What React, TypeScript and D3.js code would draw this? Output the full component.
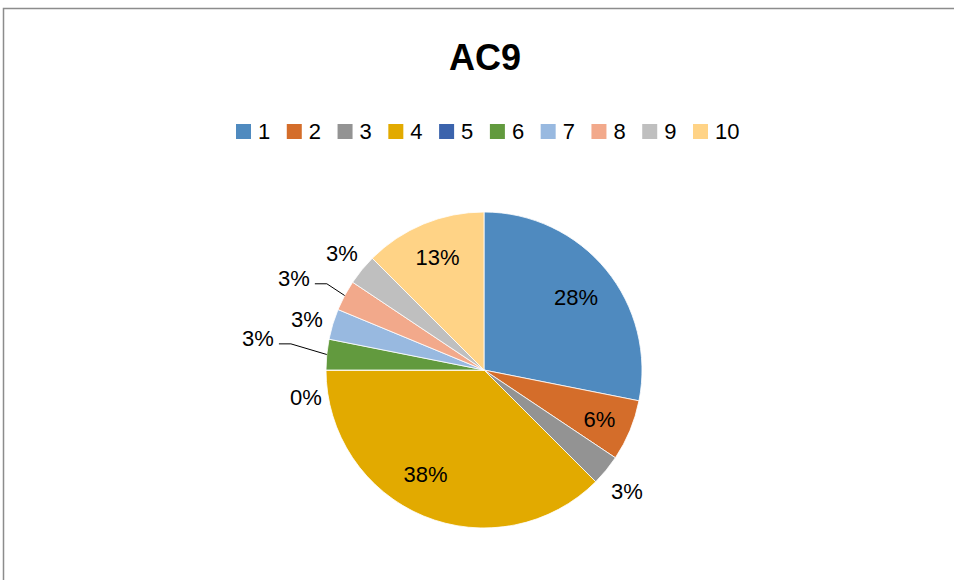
import React from "react";
import * as d3 from "d3";

const width = 955;
const height = 580;
const cx = 484;
const cy = 370;
const radius = 158;

const categories = ["1", "2", "3", "4", "5", "6", "7", "8", "9", "10"];
const counts = [9, 2, 1, 12, 0, 1, 1, 1, 1, 4];
const colors = [
  "#4F8ABF",
  "#D46D2A",
  "#939393",
  "#E2AA00",
  "#3B63AC",
  "#629A3E",
  "#98B9E0",
  "#F2A98B",
  "#BFBFBF",
  "#FFD386",
];
// how Excel placed each data label: inside, outside, or outside with a leader line
const labelMode = ["in", "in", "out", "in", "out", "leader", "out", "leader", "out", "in"];
const labelNudge: [number, number][] = [
  [-2, 5],
  [3, 3],
  [0, 4],
  [-12, -8],
  [7, 27],
  [-42, -13],
  [0, 3],
  [-27, -4],
  [1, 1],
  [0, 0],
];

const font = "'Liberation Sans', Arial, sans-serif";

export default function App() {
  const total = d3.sum(counts);
  const pie = d3
    .pie<number>()
    .sort(null)
    .value((d) => d);
  const arcs = pie(counts);
  const arc = d3.arc<d3.PieArcDatum<number>>().innerRadius(0).outerRadius(radius);
  const inArc = d3
    .arc<d3.PieArcDatum<number>>()
    .innerRadius(radius * 0.77)
    .outerRadius(radius * 0.77);
  const outArc = d3
    .arc<d3.PieArcDatum<number>>()
    .innerRadius(185)
    .outerRadius(185);
  const edgeArc = d3
    .arc<d3.PieArcDatum<number>>()
    .innerRadius(radius)
    .outerRadius(radius);

  const legendX = d3
    .scalePoint<string>()
    .domain(categories)
    .range([236, 693]);

  const fmt = (v: number) => `${Math.round((v / total) * 100)}%`;

  return (
    <svg
      width={width}
      height={height}
      style={{ position: "absolute", left: 0, top: 0 }}
      fontFamily={font}
    >
      <rect x={0} y={0} width={width} height={height} fill="#fff" />
      <path
        d={`M3.5,${height} V8.5 H954`}
        fill="none"
        stroke="#8c8c8c"
        strokeWidth={1.5}
      />
      <text x={cx + 1} y={70} textAnchor="middle" fontSize={36} fontWeight="bold">
        AC9
      </text>
      <g>
        {categories.map((c, i) => (
          <g key={c} transform={`translate(${legendX(c)},0)`}>
            <rect x={0} y={124} width={15} height={15} fill={colors[i]} />
            <text x={22} y={139} fontSize={22} fill="#000">
              {c}
            </text>
          </g>
        ))}
      </g>
      <g transform={`translate(${cx},${cy})`}>
        {arcs.map((a, i) => (
          <path key={i} d={arc(a) || ""} fill={colors[i]} stroke="#fff" strokeWidth={0.8} />
        ))}
        {arcs.map((a, i) => {
          const mode = labelMode[i];
          const base = mode === "in" ? inArc.centroid(a) : outArc.centroid(a);
          const x = base[0] + labelNudge[i][0];
          const y = base[1] + labelNudge[i][1];
          let leader = null;
          if (mode === "leader") {
            const e = edgeArc.centroid(a);
            const sx = x + 21;
            const sy = y + 5;
            const ex = sx + 12;
            leader = (
              <polyline
                points={`${sx},${sy} ${ex},${sy} ${e[0]},${e[1]}`}
                fill="none"
                stroke="#000"
                strokeWidth={1}
              />
            );
          }
          return (
            <g key={`l${i}`}>
              {leader}
              <text
                x={x}
                y={y}
                textAnchor="middle"
                dominantBaseline="central"
                fontSize={22}
                fill="#000"
              >
                {fmt(a.data)}
              </text>
            </g>
          );
        })}
      </g>
    </svg>
  );
}
